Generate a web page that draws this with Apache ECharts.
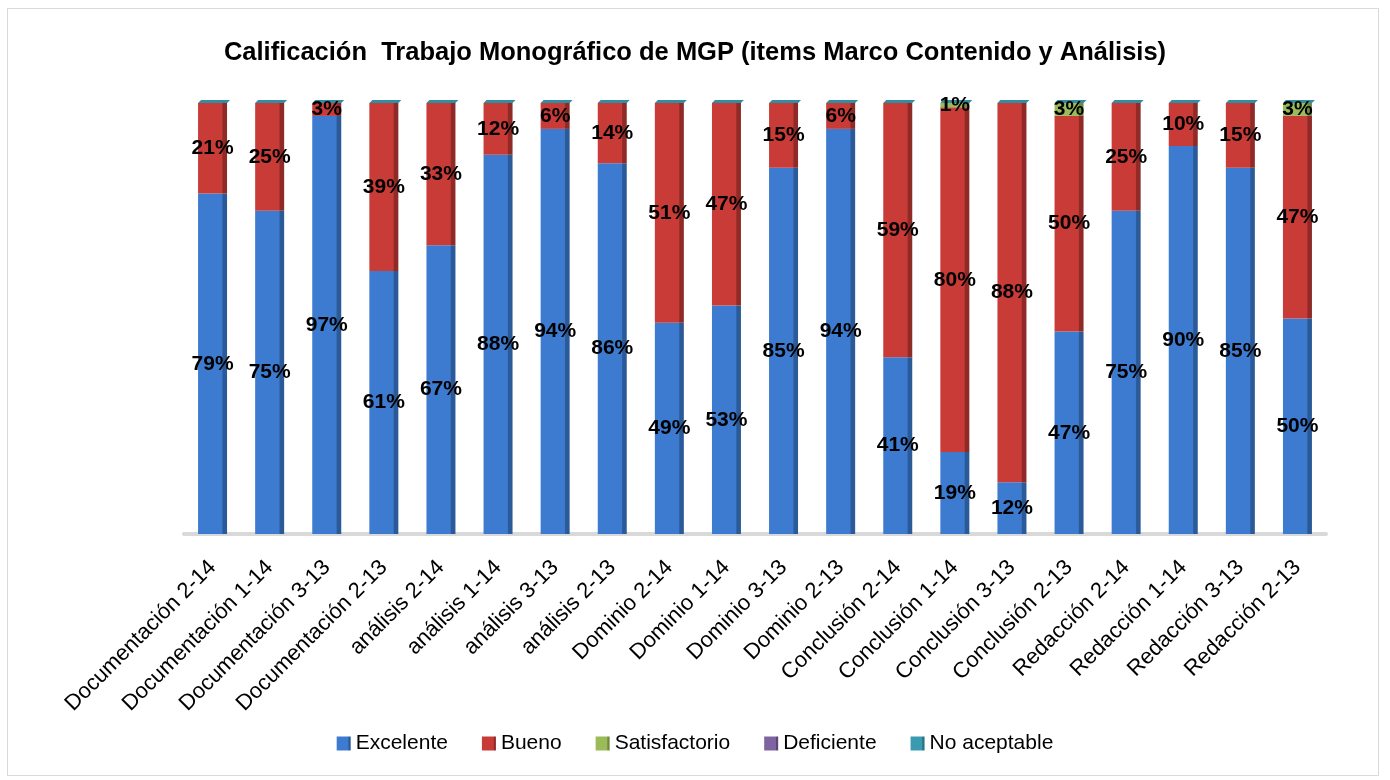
<!DOCTYPE html>
<html>
<head>
<meta charset="utf-8">
<script src="https://cdn.jsdelivr.net/npm/echarts@6/dist/echarts.min.js"></script>
<style>
  html, body { margin: 0; padding: 0; background: #fff; }
  #main { width: 1390px; height: 780px; }
  .frame { position: absolute; left: 7px; top: 8px; width: 1370px; height: 766px; border: 1px solid #d9d9d9; pointer-events: none; }
</style>
</head>
<body>
<div id="main"></div>
<div class="frame"></div>
<script>
// categorias del eje x
var categorias = [
  'Documentación 2-14', 'Documentación 1-14', 'Documentación 3-13', 'Documentación 2-13',
  'análisis 2-14', 'análisis 1-14', 'análisis 3-13', 'análisis 2-13',
  'Dominio 2-14', 'Dominio 1-14', 'Dominio 3-13', 'Dominio 2-13',
  'Conclusión 2-14', 'Conclusión 1-14', 'Conclusión 3-13', 'Conclusión 2-13',
  'Redacción 2-14', 'Redacción 1-14', 'Redacción 3-13', 'Redacción 2-13'
];

// porcentajes por nivel
var excelente     = [79, 75, 97, 61, 67, 88, 94, 86, 49, 53, 85, 94, 41, 19, 12, 47, 75, 90, 85, 50];
var bueno         = [21, 25, 3, 39, 33, 12, 6, 14, 51, 47, 15, 6, 59, 80, 88, 50, 25, 10, 15, 47];
var satisfactorio = [0, 0, 0, 0, 0, 0, 0, 0, 0, 0, 0, 0, 0, 1, 0, 3, 0, 0, 0, 3];
var deficiente    = [0, 0, 0, 0, 0, 0, 0, 0, 0, 0, 0, 0, 0, 0, 0, 0, 0, 0, 0, 0];
var noAceptable   = [0, 0, 0, 0, 0, 0, 0, 0, 0, 0, 0, 0, 0, 0, 0, 0, 0, 0, 0, 0];

var ANCHO = 29;

function grad(light, dark) {
  return new echarts.graphic.LinearGradient(0, 0, 1, 0, [
    { offset: 0, color: light },
    { offset: 0.82, color: light },
    { offset: 0.86, color: dark },
    { offset: 1, color: dark }
  ]);
}

var etiqueta = {
  show: true,
  position: 'inside',
  color: '#000',
  fontFamily: 'Liberation Sans',
  fontWeight: 'bold',
  fontSize: 21,
  formatter: function (p) { return p.value > 0 ? p.value + '%' : ''; }
};

function serie(nombre, datos, light, dark, conEtiqueta) {
  return {
    name: nombre,
    type: 'bar',
    stack: 'total',
    barWidth: ANCHO,
    data: datos,
    itemStyle: { color: grad(light, dark) },
    label: conEtiqueta ? etiqueta : { show: false },
    emphasis: { disabled: true }
  };
}

// total de cada columna (para la tapa 3D)
var totales = categorias.map(function (c, i) {
  return excelente[i] + bueno[i] + satisfactorio[i] + deficiente[i] + noAceptable[i];
});

var chart = echarts.init(document.getElementById('main'));

var series = [
  serie('Excelente', excelente, '#3d7bd0', '#2b5a98', true),
  serie('Bueno', bueno, '#c93b37', '#8f2a27', true),
  serie('Satisfactorio', satisfactorio, '#9bbb59', '#6f8a3c', true),
  serie('Deficiente', deficiente, '#8064a2', '#5b4676', false),
  serie('No aceptable', noAceptable, '#3a9bb0', '#2a7585', false),
  {
    name: 'tapa',
    type: 'custom',
    silent: true,
    z: 1,
    data: totales.map(function (t, i) { return [i, t]; }),
    renderItem: function (params, api) {
      var p = api.coord([api.value(0), api.value(1)]);
      var x0 = p[0] - ANCHO / 2;
      var y = p[1];
      return {
        type: 'polygon',
        shape: { points: [[x0, y], [x0 + 3, y - 3], [x0 + ANCHO + 3, y - 3], [x0 + ANCHO, y]] },
        style: { fill: '#2f8ea3' }
      };
    }
  }
];

chart.setOption({
  animation: false,
  textStyle: { fontFamily: 'Liberation Sans' },
  title: {
    text: 'Calificación  Trabajo Monográfico de MGP (items Marco Contenido y Análisis)',
    left: 'center',
    top: 35,
    textStyle: { fontSize: 25.5, fontWeight: 'bold', color: '#000', fontFamily: 'Liberation Sans' }
  },
  color: ['#4f81bd', '#c0504d', '#9bbb59', '#8064a2', '#4bacc6'],
  legend: {
    bottom: 21,
    left: 'center',
    itemWidth: 14,
    itemHeight: 14,
    itemGap: 34,
    icon: 'rect',
    textStyle: { fontSize: 21, color: '#000', fontFamily: 'Liberation Sans' },
    data: ['Excelente', 'Bueno', 'Satisfactorio', 'Deficiente', 'No aceptable']
  },
  grid: { left: 184, right: 64, top: 103, bottom: 246 },
  xAxis: {
    type: 'category',
    data: categorias,
    axisTick: { show: false },
    axisLine: { lineStyle: { color: '#d9d9d9', width: 4 } },
    axisLabel: {
      interval: 0,
      rotate: 45,
      margin: 30,
      color: '#000',
      fontSize: 22,
      fontFamily: 'Liberation Sans'
    }
  },
  yAxis: {
    type: 'value',
    min: 0,
    max: 100,
    show: false
  },
  series: series
});
</script>
</body>
</html>
